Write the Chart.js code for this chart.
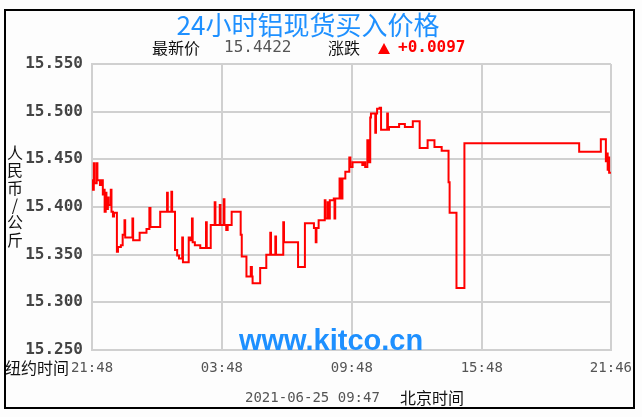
<!DOCTYPE html>
<html>
<head>
<meta charset="utf-8">
<script src="https://cdn.jsdelivr.net/npm/chart.js@4.4.0/dist/chart.umd.min.js"></script>
<style>
  html, body { margin: 0; padding: 0; background: #fff; }
</style>
</head>
<body>
<canvas id="myChart" width="642" height="417"></canvas>
<script>
// minutes after 21:48 (New York time) at which the price changes
const times = [
  0, 2, 5, 7, 13, 15, 22, 27, 30, 33, 35, 38, 40, 44, 46, 52, 54, 58, 61, 69,
  72, 80, 85, 90, 92, 112, 114, 132, 151, 159, 162, 189, 208, 210, 220, 222, 230, 236, 241, 250,
  252, 268, 272, 277, 279, 285, 300, 316, 318, 329, 340, 342, 354, 356, 365, 367, 372, 376, 387, 412,
  415, 428, 440, 443, 445, 466, 483, 494, 496, 508, 510, 530, 532, 571, 590, 615, 620, 622, 628, 645,
  647, 653, 656, 659, 670, 672, 674, 686, 691, 694, 702, 713, 716, 722, 749, 752, 757, 763, 766, 771,
  773, 785, 787, 790, 797, 801, 818, 820, 823, 851, 867, 889, 908, 930, 949, 969, 988, 991, 1010, 1032,
  1350, 1410, 1424, 1427, 1429, 1431, 1433, 1438
];
const prices = [
  15.428, 15.418, 15.446, 15.425, 15.446, 15.428, 15.423, 15.428, 15.413, 15.418,
  15.395, 15.415, 15.398, 15.410, 15.402, 15.418, 15.395, 15.390, 15.394, 15.353,
  15.358, 15.360, 15.371, 15.386, 15.368, 15.388, 15.365, 15.373, 15.377, 15.399,
  15.379, 15.395, 15.415, 15.395, 15.416, 15.395, 15.355, 15.349, 15.346, 15.368,
  15.342, 15.368, 15.365, 15.388, 15.363, 15.360, 15.357, 15.384, 15.357, 15.381,
  15.405, 15.381, 15.402, 15.381, 15.408, 15.381, 15.376, 15.381, 15.395, 15.371,
  15.348, 15.327, 15.337, 15.327, 15.320, 15.336, 15.350, 15.373, 15.350, 15.369,
  15.350, 15.384, 15.363, 15.337, 15.383, 15.378, 15.363, 15.378, 15.386, 15.407,
  15.388, 15.405, 15.388, 15.407, 15.409, 15.388, 15.409, 15.430, 15.409, 15.430,
  15.437, 15.452, 15.442, 15.447, 15.444, 15.447, 15.442, 15.470, 15.447, 15.494,
  15.498, 15.478, 15.498, 15.503, 15.504, 15.481, 15.498, 15.481, 15.484, 15.487,
  15.484, 15.490, 15.462, 15.470, 15.463, 15.459, 15.426, 15.394, 15.315, 15.467,
  15.458, 15.471, 15.448, 15.456, 15.439, 15.452, 15.436, 15.436
];
const xTickValues = [0, 360, 720, 1080, 1438];
const xTickLabels = ['21:48', '03:48', '09:48', '15:48', '21:46'];
const yMin = 15.25, yMax = 15.55, yStep = 0.05;

const title = '24小时铝现货买入价格';
const latestLabel = '最新价', latestValue = '15.4422';
const changeLabel = '涨跌', changeValue = '+0.0097';
const yTitleChars = ['人', '民', '币', '/', '公', '斤'];
const nyLabel = '纽约时间';
const stamp = '2021-06-25 09:47', bjLabel = '北京时间';
const watermark = 'www.kitco.cn';

const cjk = '"Noto Sans CJK SC"';
const mono = '"DejaVu Sans Mono"';

const decor = {
  id: 'decor',
  beforeDraw(chart) {
    const ctx = chart.ctx;
    ctx.save();
    ctx.fillStyle = '#fdfdfd';
    ctx.fillRect(0, 0, chart.width, chart.height);
    ctx.restore();
  },
  beforeDatasetsDraw(chart) {
    const ctx = chart.ctx;
    ctx.save();
    ctx.font = 'bold 29px "Liberation Sans"';
    ctx.fillStyle = '#1e90ff';
    ctx.textAlign = 'center';
    ctx.textBaseline = 'middle';
    ctx.fillText(watermark, 331, 342);
    ctx.restore();
  },
  afterDraw(chart) {
    const ctx = chart.ctx;
    ctx.save();
    ctx.textBaseline = 'middle';
    // title
    ctx.font = '26px ' + cjk;
    ctx.fillStyle = '#1e90ff';
    ctx.textAlign = 'center';
    ctx.fillText(title, 308, 25);
    // latest price line
    ctx.textAlign = 'left';
    ctx.font = '16px ' + cjk;
    ctx.fillStyle = '#111';
    ctx.fillText(latestLabel, 152, 48);
    ctx.fillText(changeLabel, 328, 48);
    ctx.font = '16px ' + mono;
    ctx.fillStyle = '#555';
    ctx.fillText(latestValue, 224, 48);
    ctx.fillStyle = '#ff0000';
    ctx.font = 'bold 16px ' + mono;
    ctx.fillText(changeValue, 398, 48);
    ctx.beginPath();
    ctx.moveTo(378, 54); ctx.lineTo(390, 54); ctx.lineTo(384, 43); ctx.closePath();
    ctx.fill();
    // vertical unit label
    ctx.font = '16px ' + cjk;
    ctx.fillStyle = '#111';
    ctx.textAlign = 'center';
    yTitleChars.forEach((c, i) => ctx.fillText(c, 15, 153 + i * 17.3));
    // bottom texts
    ctx.textAlign = 'left';
    ctx.fillText(nyLabel, 5, 368);
    ctx.fillText(bjLabel, 400, 398);
    ctx.font = '14px ' + mono;
    ctx.fillStyle = '#555';
    ctx.fillText(stamp, 245, 398);
    // frame
    ctx.strokeStyle = '#000';
    ctx.lineWidth = 2;
    ctx.strokeRect(5, 10, 629, 398);
    ctx.restore();
  }
};

const ctx = document.getElementById('myChart').getContext('2d');
const chart = new Chart(ctx, {
  type: 'line',
  data: {
    datasets: [{
      data: times.map((t, i) => ({ x: t, y: prices[i] })),
      borderColor: '#ff0000',
      borderWidth: 2,
      stepped: 'before',
      pointRadius: 0,
      fill: false
    }]
  },
  options: {
    responsive: false,
    animation: false,
    layout: { padding: { top: 64, right: 26, bottom: 37, left: 0 } },
    plugins: { legend: { display: false }, tooltip: { enabled: false } },
    scales: {
      x: {
        type: 'linear',
        min: 0,
        max: 1438,
        afterBuildTicks(scale) { scale.ticks = xTickValues.map(v => ({ value: v })); },
        afterFit(scale) { scale.height = 30; },
        grid: { color: '#d0d0d0', lineWidth: 2, drawTicks: false },
        border: { display: true, color: '#d0d0d0', width: 2 },
        ticks: {
          autoSkip: false,
          maxRotation: 0,
          padding: 10,
          color: '#555',
          font: { family: 'DejaVu Sans Mono', size: 14 },
          callback: (v, i) => xTickLabels[i]
        }
      },
      y: {
        min: yMin,
        max: yMax,
        afterFit(scale) { scale.width = 92; },
        grid: { color: '#d0d0d0', lineWidth: 2, drawTicks: false },
        border: { display: true, color: '#d0d0d0', width: 2 },
        ticks: {
          stepSize: yStep,
          padding: 9,
          color: '#444',
          font: { family: 'DejaVu Sans Mono', size: 16, weight: 'bold' },
          callback: v => v.toFixed(3)
        }
      }
    }
  },
  plugins: [decor]
});
</script>
</body>
</html>
